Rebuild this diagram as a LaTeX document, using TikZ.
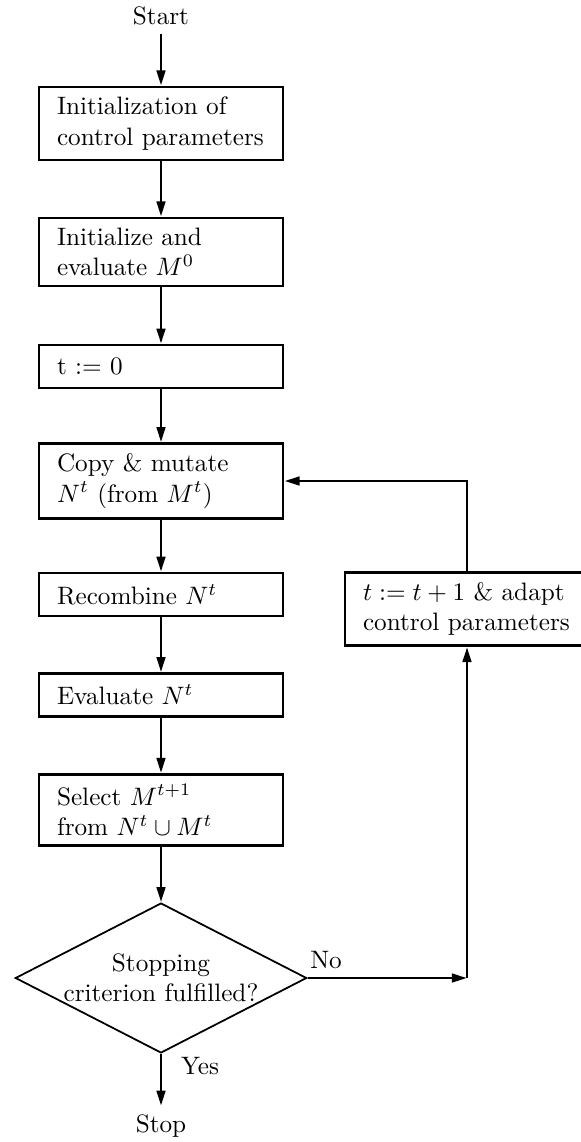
\documentclass[tikz,border=0pt]{standalone}
\usetikzlibrary{shapes.geometric, arrows.meta}

\begin{document}
\begin{tikzpicture}[
    x=0.3968pt, y=-0.3968pt,
    stepbox/.style={draw, line width=1.1pt, rectangle, align=left,
        text width=82.5pt, inner xsep=7.2pt, inner ysep=4pt, minimum height=17pt},
    decision/.style={draw, line width=0.7pt, diamond, aspect=2, inner sep=0pt,
        align=center, minimum height=59.5pt},
    flow/.style={line width=1.1pt, -{Triangle[length=6pt, width=3.4pt]}},
        ]

    \path [use as bounding box] (0,0) rectangle (581,1142);
    \clip (0,0) rectangle (581,1142);

    % main column, centres read off in pixels
    \node (start) at (161,16) {Start};
    \node [stepbox] (init) at (161,123.5) {Initialization of\\control parameters};
    \node [stepbox] (initeval) at (161,252) {Initialize and\\evaluate $M^0$};
    \node [stepbox] (tzero) at (161,366.5) {t := 0};
    \node [stepbox] (mutate) at (161,481) {Copy \& mutate\\$N^t$ (from $M^t$)};
    \node [stepbox] (recomb) at (161,594.5) {Recombine $N^t$};
    \node [stepbox] (evalN) at (161,695) {Evaluate $N^t$};
    \node [stepbox] (select) at (161,810) {Select $M^{t+1}$\\from $N^t \cup M^t$};
    \node [decision] (stopq) at (161,978) {Stopping\\criterion fulfilled?};
    \node (stop) at (161,1126) {Stop};

    % loop back, the box runs off the right edge
    \node [stepbox] (adapt) at (467,609) {$t := t+1$ \& adapt\\control parameters};
    \coordinate (join) at (stopq.east -| adapt.south);

    \node (no) at (326,960) {No};
    \node (yes) at (200,1066) {Yes};

    \draw [flow] (start) -- (init);
    \draw [flow] (init) -- (initeval);
    \draw [flow] (initeval) -- (tzero);
    \draw [flow] (tzero) -- (mutate);
    \draw [flow] (mutate) -- (recomb);
    \draw [flow] (recomb) -- (evalN);
    \draw [flow] (evalN) -- (select);
    \draw [flow] (select) -- (stopq);
    \draw [flow] (stopq) -- (stop);

    \draw [flow] (stopq.east) -- (join);
    \draw [flow] (join) -- (adapt.south);
    \draw [flow] (adapt.north) |- (mutate.east);

\end{tikzpicture}
\end{document}
